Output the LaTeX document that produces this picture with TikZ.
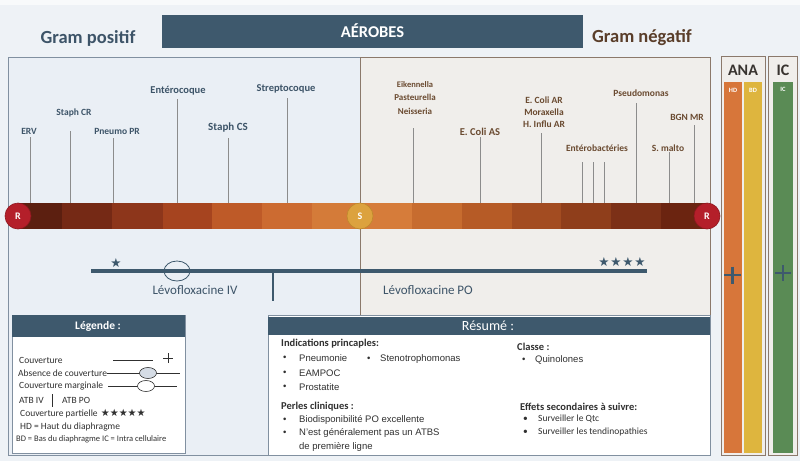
\documentclass[tikz,border=0pt]{standalone}
\usepackage{fontspec}
\setmainfont{Carlito}
\newfontfamily\arialfont{Liberation Sans}
\newfontfamily\symbfont{DejaVu Sans}
\definecolor{bgcol}{HTML}{EEF2F6}
\definecolor{slate}{HTML}{3E596D}
\definecolor{gpcol}{HTML}{3D5468}
\definecolor{gncol}{HTML}{6A4A30}
\definecolor{gntitle}{HTML}{5A3E2A}
\definecolor{gpfill}{HTML}{EAEFF5}
\definecolor{gpborder}{HTML}{8190A0}
\definecolor{gnfill}{HTML}{F0EEEB}
\definecolor{gnborder}{HTML}{8B796B}
\definecolor{tickgray}{HTML}{8C8C8C}
\definecolor{txtdark}{HTML}{303030}
\definecolor{rred}{HTML}{B41F2A}
\definecolor{rdark}{HTML}{8E1820}
\definecolor{sgold}{HTML}{DCA23E}
\definecolor{sdark}{HTML}{BE8A2C}
\definecolor{anaorange}{HTML}{D7763A}
\definecolor{anayellow}{HTML}{DEB53E}
\definecolor{icgreen}{HTML}{5A8B55}
\definecolor{ellfill}{HTML}{D5DCE5}
\definecolor{segA}{HTML}{5C1F10}
\definecolor{segB}{HTML}{752915}
\definecolor{segC}{HTML}{8D361B}
\definecolor{segD}{HTML}{A6441F}
\definecolor{segE}{HTML}{BE5A28}
\definecolor{segF}{HTML}{CC6B31}
\definecolor{segG}{HTML}{D47B39}
\definecolor{segH}{HTML}{D67C3A}
\definecolor{segI}{HTML}{C76C2F}
\definecolor{segJ}{HTML}{B65B26}
\definecolor{segK}{HTML}{A34C21}
\definecolor{segL}{HTML}{8F3E1B}
\definecolor{segM}{HTML}{7C3017}
\definecolor{segN}{HTML}{6B2410}
\begin{document}
\begin{tikzpicture}[x=1pt,y=-1pt,
	gplab/.style={text=gpcol,font=\bfseries\fontsize{9.5}{12}\selectfont,inner sep=0pt,align=center},
	gnlab/.style={text=gncol,font=\bfseries\fontsize{9.5}{12}\selectfont,inner sep=0pt,align=center},
	tick/.style={draw=tickgray,line width=0.8pt},
	rcirc/.style={circle,fill=rred,draw=rdark,line width=0.6pt,minimum size=26pt,inner sep=0pt,text=white,font=\bfseries\fontsize{10}{10}\selectfont},
	legtxt/.style={anchor=west,inner sep=0pt,text=txtdark,font=\fontsize{9.5}{11}\selectfont},
	restitle/.style={anchor=west,inner sep=0pt,text=txtdark,font=\bfseries\fontsize{10.5}{12}\selectfont},
	resitem/.style={anchor=west,inner sep=0pt,text=txtdark,font=\arialfont\fontsize{9.5}{11}\selectfont},
	startxt/.style={inner sep=0pt,text=slate,font=\symbfont\fontsize{12.5}{12}\selectfont},
	plusmark/.style={draw=slate,line width=2.4pt}]
	\useasboundingbox (0,0) rectangle (800,461);
	\fill [bgcol] (0,0) rectangle (800,461);
	\fill [white!60!bgcol] (0,0) rectangle (800,5);

	\fill [slate] (162,15) rectangle (583,48);
	\node [text=white,font=\bfseries\fontsize{16.5}{18}\selectfont] (aerobes) at (372.5,31) {AÉROBES};
	\node [text=gpcol,font=\bfseries\fontsize{18.5}{20}\selectfont] (grampos) at (88,38) {Gram positif};
	\node [text=gntitle,font=\bfseries\fontsize{18.5}{20}\selectfont] (gramneg) at (642,38) {Gram négatif};

	\draw [gpborder,fill=gpfill,line width=0.8pt] (8,57) rectangle (360,455);
	\draw [gnborder,fill=gnfill,line width=0.8pt] (360,57) rectangle (710,455);

	\node [gplab] (erv) at (29,131) {ERV};
	\node [gplab] (staphcr) at (74,113) {Staph CR};
	\node [gplab] (pneumopr) at (117,131) {Pneumo PR};
	\node [gplab,font=\bfseries\fontsize{10.5}{12}\selectfont] (entero) at (178,91) {Entérocoque};
	\node [gplab,font=\bfseries\fontsize{11}{12}\selectfont] (staphcs) at (228,128) {Staph CS};
	\node [gplab,font=\bfseries\fontsize{10.5}{12}\selectfont] (strepto) at (286,89) {Streptocoque};
	\node [gnlab,font=\bfseries\fontsize{9}{13.5}\selectfont] (eikenella) at (415,98) {{\fontsize{8.5}{13.5}\selectfont Eikennella}\\Pasteurella\\Neisseria};
	\node [gnlab,font=\bfseries\fontsize{10.5}{12}\selectfont] (ecolias) at (480,132) {E. Coli AS};
	\node [gnlab] (ecoliar) at (544,112) {E. Coli AR\\Moraxella\\H. Influ AR};
	\node [gnlab] (enterob) at (597,148) {Entérobactéries};
	\node [gnlab] (pseudo) at (641,93) {Pseudomonas};
	\node [gnlab] (bgnmr) at (687,117) {BGN MR};
	\node [gnlab] (smalto) at (668,148) {S. malto};

	\foreach \tx/\ty in {30/137,70/131,113/138,177/99,228/138,287/98,413/128,480/137,541/133,582/162,593/162,604/162,636/103,669/152,694/125}
		\draw [tick] (\tx,\ty) -- (\tx,204);

	\foreach \xa/\xb/\segc in {18/62/segA,62/112/segB,112/163/segC,163/212/segD,212/262/segE,262/312/segF,312/360/segG,360/412/segH,412/462/segI,462/512/segJ,512/561/segK,561/611/segL,611/661/segM,661/707/segN}
		\fill [\segc] (\xa,203) rectangle (\xb,229);
	\node [rcirc] (rleft) at (18,216) {R};
	\node [rcirc] (rright) at (707,216) {R};
	\node [rcirc,fill=sgold,draw=sdark] (smid) at (360,216) {S};

	\draw [slate,line width=4pt] (91,271) -- (647,271);
	\draw [slate,line width=0.8pt] (177,271) ellipse [x radius=13pt,y radius=10pt];
	\draw [slate,line width=1.8pt] (273,271) -- (273,301);
	\node [startxt] (stariv) at (116,263.5) {★};
	\foreach \sx [count=\si] in {604,616,628,640}
		\node [startxt] (starpo\si) at (\sx,262) {★};
	\node [text=gpcol,font=\fontsize{13}{14}\selectfont] (levoiv) at (195,290) {Lévofloxacine IV};
	\node [text=gpcol,font=\fontsize{13}{14}\selectfont] (levopo) at (428,290) {Lévofloxacine PO};

	\draw [gnborder,fill=gnfill,line width=0.8pt] (721,56) rectangle (765,455);
	\fill [anaorange] (724,82) rectangle (742,453);
	\fill [anayellow] (744,82) rectangle (762,453);
	\node [text=txtdark!80!gntitle,font=\bfseries\fontsize{16}{18}\selectfont] (ana) at (743,70) {ANA};
	\node [text=white,font=\bfseries\fontsize{6.5}{7}\selectfont] (hd) at (733,90) {HD};
	\node [text=white,font=\bfseries\fontsize{6.5}{7}\selectfont] (bd) at (753,90) {BD};
	\draw [plusmark] (724,275) -- (741,275) (732.5,266.5) -- (732.5,283.5);
	\draw [gnborder,fill=gnfill,line width=0.8pt] (768,56) rectangle (797,455);
	\fill [icgreen] (773,82) rectangle (793,453);
	\node [text=txtdark!80!gntitle,font=\bfseries\fontsize{16}{18}\selectfont] (ic) at (783,70) {IC};
	\node [text=white,font=\bfseries\fontsize{6.5}{7}\selectfont] (icsmall) at (783,89) {IC};
	\draw [plusmark] (775,273) -- (791,273) (783,265) -- (783,281);

	\draw [gpborder,fill=white,line width=0.8pt] (12,315) rectangle (185,453);
	\fill [slate] (12,315) rectangle (185,337);
	\node [text=white,font=\bfseries\fontsize{11.5}{12}\selectfont] (legende) at (98,326) {Légende :};
	\node [legtxt] (lcouv) at (19,360) {Couverture};
	\draw [txtdark,line width=0.6pt] (113,360) -- (153,360);
	\draw [txtdark,line width=1pt] (163,358) -- (173,358) (168,353) -- (168,363);
	\node [legtxt] (labs) at (18,373) {Absence de couverture};
	\draw [txtdark,line width=0.6pt] (labs.east) -- (180,373);
	\draw [txtdark,fill=ellfill,line width=0.6pt] (148,373) ellipse [x radius=8.5pt,y radius=5.5pt];
	\node [legtxt] (lmarg) at (19,386) {Couverture marginale};
	\draw [txtdark,line width=0.6pt] (108,386) -- (177,386);
	\draw [txtdark,fill=white,line width=0.6pt] (146,386) ellipse [x radius=8.5pt,y radius=5.5pt];
	\node [legtxt] (latbiv) at (19,400) {ATB IV};
	\draw [txtdark,line width=0.8pt] (52,394) -- (52,407);
	\node [legtxt] (latbpo) at (62,400) {ATB PO};
	\node [legtxt] (lpart) at (20,414) {Couverture partielle \hspace{1pt}{\symbfont\fontsize{10}{10}\selectfont ★★★★★}};
	\node [legtxt] (lhd) at (20,427) {HD = Haut du diaphragme};
	\node [legtxt,font=\fontsize{8.5}{10}\selectfont] (lbd) at (16,439) {BD = Bas du diaphragme IC = Intra cellulaire};

	\draw [gpborder,fill=white,line width=0.8pt] (268,315) rectangle (710,455);
	\fill [slate] (268,317) rectangle (710,335);
	\node [text=white,font=\fontsize{14}{15}\selectfont] (resume) at (488,326) {Résumé :};
	\node [restitle] (indic) at (281,344) {Indications princaples:};
	\node [resitem] at (283,358) {•};
	\node [resitem] (pneumonie) at (299,358) {Pneumonie};
	\node [resitem] at (367,359) {•};
	\node [resitem] (steno) at (380,359) {Stenotrophomonas};
	\node [resitem] at (283,373) {•};
	\node [resitem] (eampoc) at (299,373) {EAMPOC};
	\node [resitem] at (283,387) {•};
	\node [resitem] (prost) at (299,387) {Prostatite};
	\node [restitle] (perles) at (281,407) {Perles cliniques :};
	\node [resitem] at (283,420) {•};
	\node [resitem] (biodispo) at (299,420) {Biodisponibilité PO excellente};
	\node [resitem] at (283,433) {•};
	\node [resitem] (nest) at (299,433) {N’est généralement pas un ATBS};
	\node [resitem] (premiere) at (299,447) {de première ligne};
	\node [restitle] (classe) at (517,347) {Classe :};
	\node [resitem] at (522,360) {•};
	\node [resitem] (quino) at (535,360) {Quinolones};
	\node [restitle] (effets) at (520,407) {Effets secondaires à suivre:};
	\node [resitem,font=\fontsize{9.5}{11}\selectfont] at (523,419) {•};
	\node [resitem,font=\fontsize{9.5}{11}\selectfont] (qtc) at (538,419) {Surveiller le Qtc};
	\node [resitem,font=\fontsize{9.5}{11}\selectfont] at (523,432) {•};
	\node [resitem,font=\fontsize{9.5}{11}\selectfont] (tendino) at (538,432) {Surveiller les tendinopathies};
\end{tikzpicture}
\end{document}
